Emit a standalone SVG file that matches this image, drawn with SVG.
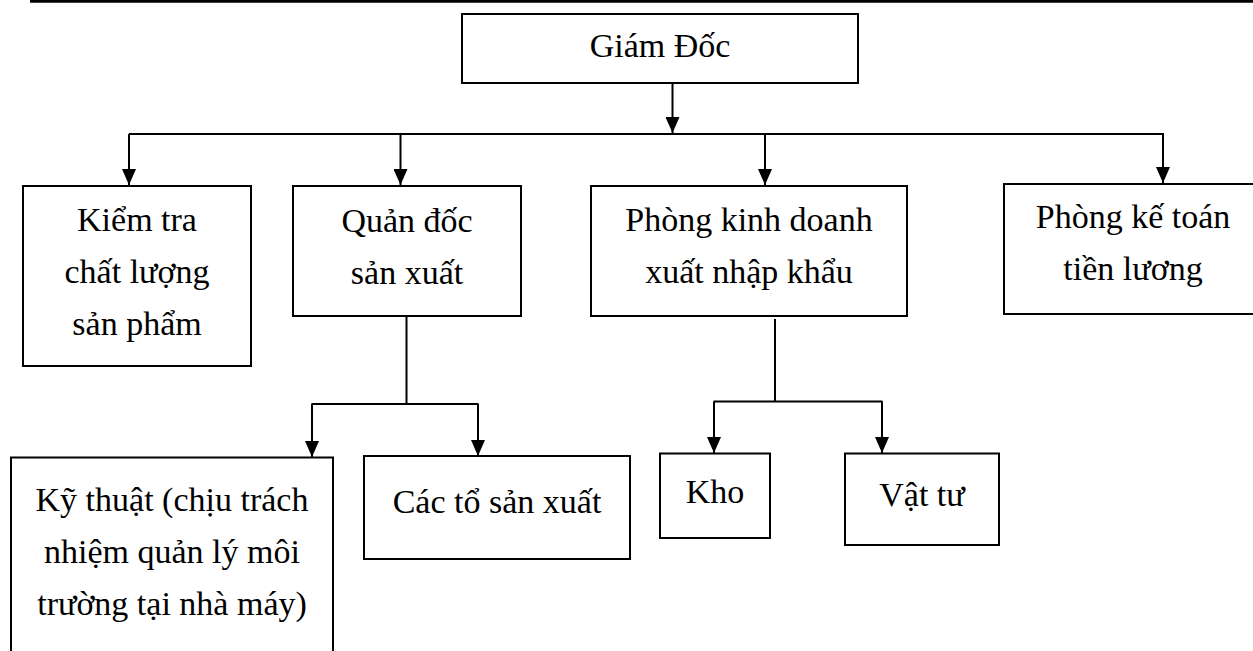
<svg xmlns="http://www.w3.org/2000/svg" width="1253" height="651" viewBox="0 0 1253 651">
<style>
.box{fill:#fff;stroke:#000;stroke-width:2}
.t{font-family:"Liberation Serif","Times New Roman",serif;font-size:34px;fill:#000;text-anchor:middle}
.c{fill:none;stroke:#000;stroke-width:2}
</style>
<defs>
<marker id="ah" markerUnits="userSpaceOnUse" markerWidth="16" markerHeight="14" viewBox="0 0 16 14" refX="16" refY="7" orient="auto">
<path d="M0,0 L16,7 L0,14 Z" fill="#000"/>
</marker>
</defs>
<rect x="0" y="0" width="1253" height="651" fill="#fff"/>
<line x1="30" y1="1.3" x2="1253" y2="1.3" stroke="#000" stroke-width="2.7"/>
<g id="connectors">
<path class="c" d="M672.5,83 V133" marker-end="url(#ah)"/>
<path class="c" d="M129,134 H1164"/>
<path class="c" d="M129,134 V185" marker-end="url(#ah)"/>
<path class="c" d="M400.5,134 V185" marker-end="url(#ah)"/>
<path class="c" d="M765,134 V185" marker-end="url(#ah)"/>
<path class="c" d="M1163,134 V183" marker-end="url(#ah)"/>
<path class="c" d="M406.5,316 V404 M311.5,404 H478.5"/>
<path class="c" d="M312,404 V457" marker-end="url(#ah)"/>
<path class="c" d="M478,404 V456" marker-end="url(#ah)"/>
<path class="c" d="M775,319 V401.5 M713.5,401.5 H882.5"/>
<path class="c" d="M714,401.5 V453" marker-end="url(#ah)"/>
<path class="c" d="M882,401.5 V453" marker-end="url(#ah)"/>
</g>
<g id="giam-doc">
<rect class="box" x="462" y="14" width="396" height="69"/>
<text class="t" x="660" y="57">Giám Đốc</text>
</g>
<g id="kiem-tra">
<rect class="box" x="23" y="186" width="228" height="180"/>
<text class="t" x="137" y="231">Kiểm tra</text>
<text class="t" x="137" y="283">chất lượng</text>
<text class="t" x="137" y="335">sản phẩm</text>
</g>
<g id="quan-doc">
<rect class="box" x="293" y="186" width="228" height="130"/>
<text class="t" x="407" y="232">Quản đốc</text>
<text class="t" x="407" y="284">sản xuất</text>
</g>
<g id="phong-kinh-doanh">
<rect class="box" x="591" y="186" width="316" height="130"/>
<text class="t" x="749" y="231">Phòng kinh doanh</text>
<text class="t" x="749" y="283">xuất nhập khẩu</text>
</g>
<g id="phong-ke-toan">
<rect class="box" x="1004" y="184" width="260" height="130"/>
<text class="t" x="1133" y="228">Phòng kế toán</text>
<text class="t" x="1133" y="280">tiền lương</text>
</g>
<g id="ky-thuat">
<rect class="box" x="11" y="457.5" width="322" height="220"/>
<text class="t" x="172" y="511">Kỹ thuật (chịu trách</text>
<text class="t" x="172" y="563">nhiệm quản lý môi</text>
<text class="t" x="172" y="615">trường tại nhà máy)</text>
</g>
<g id="cac-to">
<rect class="box" x="364" y="456" width="266" height="103"/>
<text class="t" x="497" y="513">Các tổ sản xuất</text>
</g>
<g id="kho">
<rect class="box" x="660" y="453.5" width="110" height="84.5"/>
<text class="t" x="715" y="503">Kho</text>
</g>
<g id="vat-tu">
<rect class="box" x="845" y="453.5" width="154" height="91.5"/>
<text class="t" x="922" y="506">Vật tư</text>
</g>
</svg>
